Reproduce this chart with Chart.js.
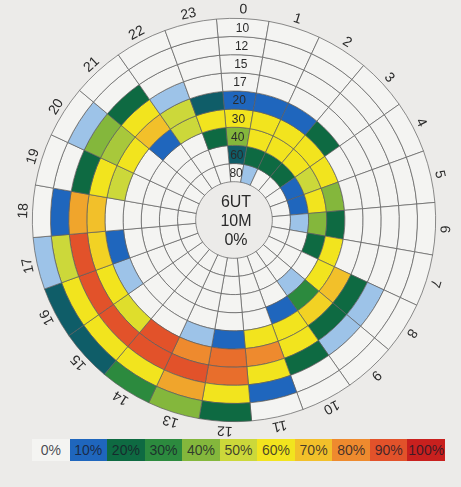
<!DOCTYPE html>
<html>
<head>
<meta charset="utf-8">
<script src="https://cdn.jsdelivr.net/npm/chart.js@4.4.1/dist/chart.umd.min.js"></script>
<style>
  body { margin: 0; background: #ecebe9; width: 461px; height: 487px; overflow: hidden;
         font-family: "Liberation Sans", Arial, sans-serif; }
  #wrap { position: absolute; left: 0; top: 0; width: 461px; height: 487px; }
  #legend { position: absolute; left: 32px; top: 439px; width: 413px; height: 22px; display: flex; }
  #legend div { flex: 1; text-align: center; font-size: 14px; line-height: 22px; color: rgba(25, 25, 40, 0.8); }
</style>
</head>
<body>
<div id="wrap"><canvas id="chart" width="461" height="487"></canvas></div>
<div id="legend"></div>
<script>
// hours (UT) around the circle, clockwise from the top
const hours = ['0','1','2','3','4','5','6','7','8','9','10','11','12','13','14','15','16','17','18','19','20','21','22','23'];
// bands, outer ring first
const bands = ['10','12','15','17','20','30','40','60','80'];
const centerLines = ['6UT', '10M', '0%'];
const legendValues = [0, 10, 20, 30, 40, 50, 60, 70, 80, 90, 100];

// % for each band, hour 0..23
const band10 = [0,0,0,0,0,0,0,0,0,0,0,0,20,40,30,15,15,5,0,0,0,0,0,0];
const band12 = [0,0,0,0,0,0,0,0,0,0,0,10,60,75,60,60,60,50,10,0,5,0,0,0];
const band15 = [0,0,0,0,0,0,0,0,5,5,20,60,85,90,90,90,90,90,75,20,40,20,0,0];
const band17 = [0,0,0,0,0,0,0,0,20,20,60,80,85,80,90,55,60,65,70,60,45,60,5,0];
const band20 = [10,10,10,20,0,0,0,0,70,65,60,60,10,5,0,0,5,10,0,50,60,70,50,15];
const band30 = [60,60,60,60,60,40,20,60,60,30,10,0,0,0,0,0,0,0,0,0,0,10,50,60];
const band40 = [40,60,60,60,50,60,40,20,0,5,0,0,0,0,0,0,0,0,0,0,0,0,0,20];
const band60 = [15,20,20,20,10,10,5,0,0,0,0,0,0,0,0,0,0,0,0,0,0,0,0,0];
const band80 = [0,5,0,0,0,0,0,0,0,0,0,0,0,0,0,0,0,0,0,0,0,0,0,0];
const series = [band10, band12, band15, band17, band20, band30, band40, band60, band80];

// colour scale
const colorStops = [
  [0, '#f4f4f2'], [5, '#9dc3e8'], [10, '#1f66bd'], [15, '#0f5d68'], [20, '#0e6a42'],
  [30, '#2c8a3e'], [40, '#84b73c'], [50, '#ccd83a'], [60, '#f2e41e'], [70, '#f2c02a'],
  [80, '#ee8a2e'], [90, '#e2522a'], [100, '#c8201e']
];

function hexToRgb(h) {
  return [parseInt(h.slice(1, 3), 16), parseInt(h.slice(3, 5), 16), parseInt(h.slice(5, 7), 16)];
}

function colorFor(v) {
  for (let i = 0; i < colorStops.length - 1; i++) {
    const [v0, c0] = colorStops[i];
    const [v1, c1] = colorStops[i + 1];
    if (v >= v0 && v <= v1) {
      const t = (v - v0) / (v1 - v0);
      const a = hexToRgb(c0), b = hexToRgb(c1);
      const c = a.map((x, k) => Math.round(x + (b[k] - x) * t));
      return `rgb(${c[0]},${c[1]},${c[2]})`;
    }
  }
  return colorStops[colorStops.length - 1][1];
}

// legend bar
const legendEl = document.getElementById('legend');
legendValues.forEach(v => {
  const d = document.createElement('div');
  d.style.background = colorFor(v);
  d.textContent = v + '%';
  legendEl.appendChild(d);
});

const FONT = '"Liberation Sans", Arial, sans-serif';

// hour labels, band labels and the centre text
const labelPlugin = {
  id: 'labels',
  afterDatasetsDraw(chart) {
    const ctx = chart.ctx;
    const outer = chart.getDatasetMeta(0).data;
    ctx.save();
    ctx.fillStyle = '#2a2a2a';
    ctx.textAlign = 'center';
    ctx.textBaseline = 'middle';

    ctx.font = '14px ' + FONT;
    outer.forEach((arc, i) => {
      const a = (arc.startAngle + arc.endAngle) / 2;
      const r = arc.outerRadius + 9;
      ctx.save();
      ctx.translate(arc.x + r * Math.cos(a), arc.y + r * Math.sin(a));
      ctx.rotate(a + Math.PI / 2);
      ctx.fillText(hours[i], 0, 0);
      ctx.restore();
    });

    ctx.font = '12px ' + FONT;
    bands.forEach((b, d) => {
      const arc = chart.getDatasetMeta(d).data[0];
      const a = (arc.startAngle + arc.endAngle) / 2;
      const r = (arc.innerRadius + arc.outerRadius) / 2;
      ctx.fillText(b, arc.x + r * Math.cos(a), arc.y + r * Math.sin(a) + 1);
    });

    ctx.font = '16px ' + FONT;
    const cx = outer[0].x, cy = outer[0].y;
    centerLines.forEach((t, k) => ctx.fillText(t, cx + 2, cy + 2 + (k - 1) * 19));
    ctx.restore();
  }
};

new Chart(document.getElementById('chart'), {
  type: 'doughnut',
  data: {
    labels: hours,
    datasets: bands.map((b, i) => ({
      label: b,
      data: hours.map(() => 1),
      backgroundColor: series[i].map(colorFor),
      borderColor: '#5c5c5c',
      borderWidth: 0.7
    }))
  },
  options: {
    responsive: false,
    animation: false,
    rotation: -5,
    cutout: '19%',
    layout: { padding: { left: 32, top: 18, right: 25, bottom: 65 } },
    plugins: {
      legend: { display: false },
      tooltip: { enabled: false },
      title: { display: false }
    }
  },
  plugins: [labelPlugin]
});
</script>
</body>
</html>
